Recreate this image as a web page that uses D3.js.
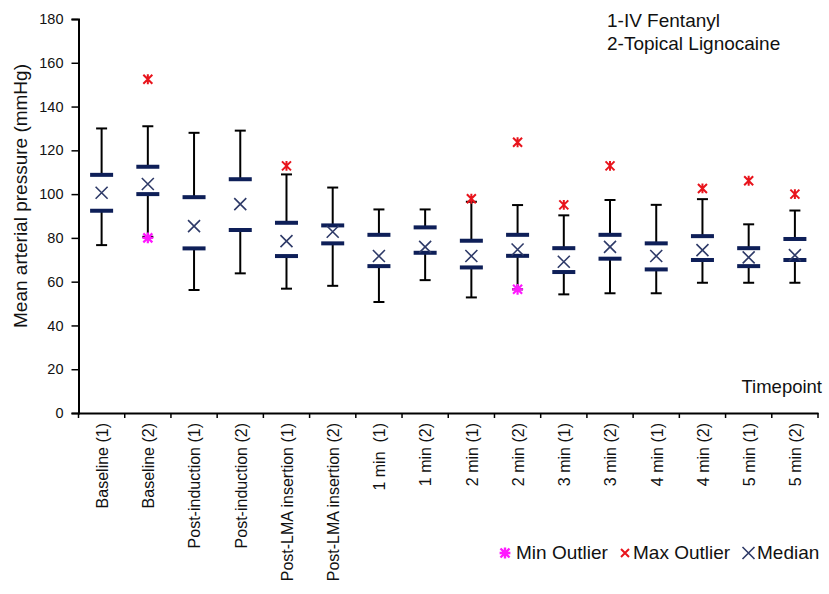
<!DOCTYPE html>
<html>
<head>
<meta charset="utf-8">
<script src="https://cdn.jsdelivr.net/npm/d3@7"></script>
<style>
  html, body { margin: 0; padding: 0; background: #fff; }
  text { font-family: Arial, "Liberation Sans", sans-serif; fill: #111; }
</style>
</head>
<body>
<svg id="chart" width="829" height="594"></svg>
<script>
const categories = ["Baseline (1)", "Baseline (2)", "Post-induction (1)", "Post-induction (2)",
  "Post-LMA insertion (1)", "Post-LMA insertion (2)", "1 min  (1)", "1 min (2)",
  "2 min (1)", "2 min (2)", "3 min (1)", "3 min (2)", "4 min (1)", "4 min (2)", "5 min (1)", "5 min (2)"];
const whiskerMax = [130, 131, 128, 129, 109, 103, 93, 93, 96.5, 95, 90.3, 97.3, 95.1, 97.7, 86.2, 92.5];
const q3 = [108.8, 112.5, 98.6, 106.8, 86.9, 85.7, 81.4, 84.8, 78.7, 81.4, 75.3, 81.4, 77.5, 80.8, 75.3, 79.5];
const medians = [100.6, 104.6, 85.4, 95.4, 78.5, 82.8, 71.7, 75.9, 71.7, 74.7, 69.1, 75.9, 71.7, 74.4, 71.1, 72.1];
const q1 = [92.4, 100, 75.2, 83.6, 71.7, 77.5, 67.1, 73.2, 66.5, 71.8, 64.4, 70.5, 65.6, 69.9, 67.1, 69.9];
const whiskerMin = [76.7, 80.5, 56.2, 63.8, 56.8, 58.1, 50.7, 60.7, 52.8, 56.5, 54.2, 54.7, 54.7, 59.5, 59.5, 59.5];
const maxOutliers = [null, 152.5, null, null, 112.9, null, null, null, 97.9, 123.7, 95.1, 112.9, null, 102.6, 106.1, 100];
const minOutliers = [null, 80, null, null, null, null, null, null, null, 56.5, null, null, null, null, null, null];
const yTicks = [0, 20, 40, 60, 80, 100, 120, 140, 160, 180];
const legendItems = ["Min Outlier", "Max Outlier", "Median"];
const notes = ["1-IV Fentanyl", "2-Topical Lignocaine"];

const svg = d3.select("#chart");
const x = d3.scaleBand().domain(categories).range([78.5, 818]).paddingInner(0).paddingOuter(0);
const y = d3.scaleLinear().domain([0, 180]).range([413, 19]);
const navy = "#0e1f58";
const medColor = "#2e3a68";
const red = "#e8141c";
const magenta = "#ff19ff";

const data = categories.map((c, i) => ({
  c, max: whiskerMax[i], q3: q3[i], med: medians[i], q1: q1[i], min: whiskerMin[i],
  hi: maxOutliers[i], lo: minOutliers[i]
}));
const cx = d => x(d.c) + x.bandwidth() / 2;

// Y axis
const yAxis = svg.append("g").attr("transform", "translate(78.5,0)")
  .call(d3.axisLeft(y).tickValues(yTicks).tickSize(7).tickPadding(8));
yAxis.select(".domain").attr("stroke", "#000").attr("stroke-width", 2);
yAxis.selectAll(".tick line").attr("stroke", "#000").attr("stroke-width", 1.5);
yAxis.selectAll(".tick text").style("font-size", "14.5px").style("font-family", "Arial, 'Liberation Sans', sans-serif").attr("fill", "#111");

// X axis
const xAxis = svg.append("g").attr("transform", "translate(0,413)")
  .call(d3.axisBottom(x).tickSize(0).tickFormat(""));
xAxis.select(".domain").attr("stroke", "#000").attr("stroke-width", 2);
xAxis.selectAll(".tick").remove();
const bounds = categories.map(c => x(c)).concat([x(categories[categories.length - 1]) + x.bandwidth()]);
svg.append("g").selectAll("line").data(bounds).join("line")
  .attr("x1", d => d).attr("x2", d => d).attr("y1", 413).attr("y2", 418)
  .attr("stroke", "#000").attr("stroke-width", 1.5);

svg.append("g").selectAll("text").data(categories).join("text")
  .attr("transform", c => `translate(${x(c) + x.bandwidth() / 2 + 0.5},423) rotate(-90)`)
  .attr("text-anchor", "end").attr("dy", "0.36em")
  .style("font-size", "16px").style("white-space", "pre")
  .text(c => c);

// Axis title
svg.append("text").attr("transform", "translate(27,196) rotate(-90)")
  .attr("text-anchor", "middle").style("font-size", "19px")
  .text("Mean arterial pressure (mmHg)");

svg.append("text").attr("x", 822).attr("y", 393).attr("text-anchor", "end")
  .style("font-size", "18.5px").text("Timepoint");

svg.append("g").selectAll("text").data(notes).join("text")
  .attr("x", 607).attr("y", (d, i) => 27 + i * 23)
  .style("font-size", "19px")
  .text(d => d);

// Whiskers
const g = svg.append("g");
g.selectAll("line.wu").data(data).join("line").attr("class", "wu")
  .attr("x1", cx).attr("x2", cx).attr("y1", d => y(d.q3)).attr("y2", d => y(d.max))
  .attr("stroke", "#000").attr("stroke-width", 2);
g.selectAll("line.wl").data(data).join("line").attr("class", "wl")
  .attr("x1", cx).attr("x2", cx).attr("y1", d => y(d.q1)).attr("y2", d => y(d.min))
  .attr("stroke", "#000").attr("stroke-width", 2);
g.selectAll("line.cu").data(data).join("line").attr("class", "cu")
  .attr("x1", d => cx(d) - 5.5).attr("x2", d => cx(d) + 5.5).attr("y1", d => y(d.max)).attr("y2", d => y(d.max))
  .attr("stroke", "#000").attr("stroke-width", 2);
g.selectAll("line.cl").data(data).join("line").attr("class", "cl")
  .attr("x1", d => cx(d) - 5.5).attr("x2", d => cx(d) + 5.5).attr("y1", d => y(d.min)).attr("y2", d => y(d.min))
  .attr("stroke", "#000").attr("stroke-width", 2);

// Quartile bars
["q3", "q1"].forEach(k => {
  g.selectAll("rect." + k).data(data).join("rect").attr("class", k)
    .attr("x", d => cx(d) - 11.5).attr("width", 23)
    .attr("y", d => y(d[k]) - 2).attr("height", 4)
    .attr("fill", navy);
});

// Marker helpers
function xMark(sel, px, py, r, color, w) {
  sel.append("path").attr("d", `M${px - r},${py - r}L${px + r},${py + r}M${px - r},${py + r}L${px + r},${py - r}`)
    .attr("stroke", color).attr("stroke-width", w).attr("fill", "none");
}
function starMark(sel, px, py, r, color, w) {
  sel.append("path").attr("d", `M${px - r},${py - r}L${px + r},${py + r}M${px - r},${py + r}L${px + r},${py - r}M${px},${py - r * 1.1}L${px},${py + r * 1.1}`)
    .attr("stroke", color).attr("stroke-width", w).attr("fill", "none");
}
function burstMark(sel, px, py, r, color, w) {
  sel.append("path").attr("d", `M${px - r},${py - r}L${px + r},${py + r}M${px - r},${py + r}L${px + r},${py - r}M${px},${py - r * 1.2}L${px},${py + r * 1.2}M${px - r * 1.2},${py}L${px + r * 1.2},${py}`)
    .attr("stroke", color).attr("stroke-width", w).attr("fill", "none");
}

const mg = svg.append("g");
data.forEach(d => {
  xMark(mg, cx(d), y(d.med), 6, medColor, 1.6);
  if (d.hi != null) starMark(mg, cx(d), y(d.hi), 4.5, red, 2);
  if (d.lo != null) burstMark(mg, cx(d), y(d.lo), 4.5, magenta, 2.2);
});

// Legend
const lg = svg.append("g");
burstMark(lg, 505, 553, 4.5, magenta, 2.4);
lg.append("text").attr("x", 516).attr("y", 559).style("font-size", "19px").text(legendItems[0]);
xMark(lg, 625, 553, 4, red, 2);
lg.append("text").attr("x", 633).attr("y", 559).style("font-size", "19px").text(legendItems[1]);
xMark(lg, 748.5, 553, 6, medColor, 1.6);
lg.append("text").attr("x", 757).attr("y", 559).style("font-size", "19px").text(legendItems[2]);
</script>
</body>
</html>
